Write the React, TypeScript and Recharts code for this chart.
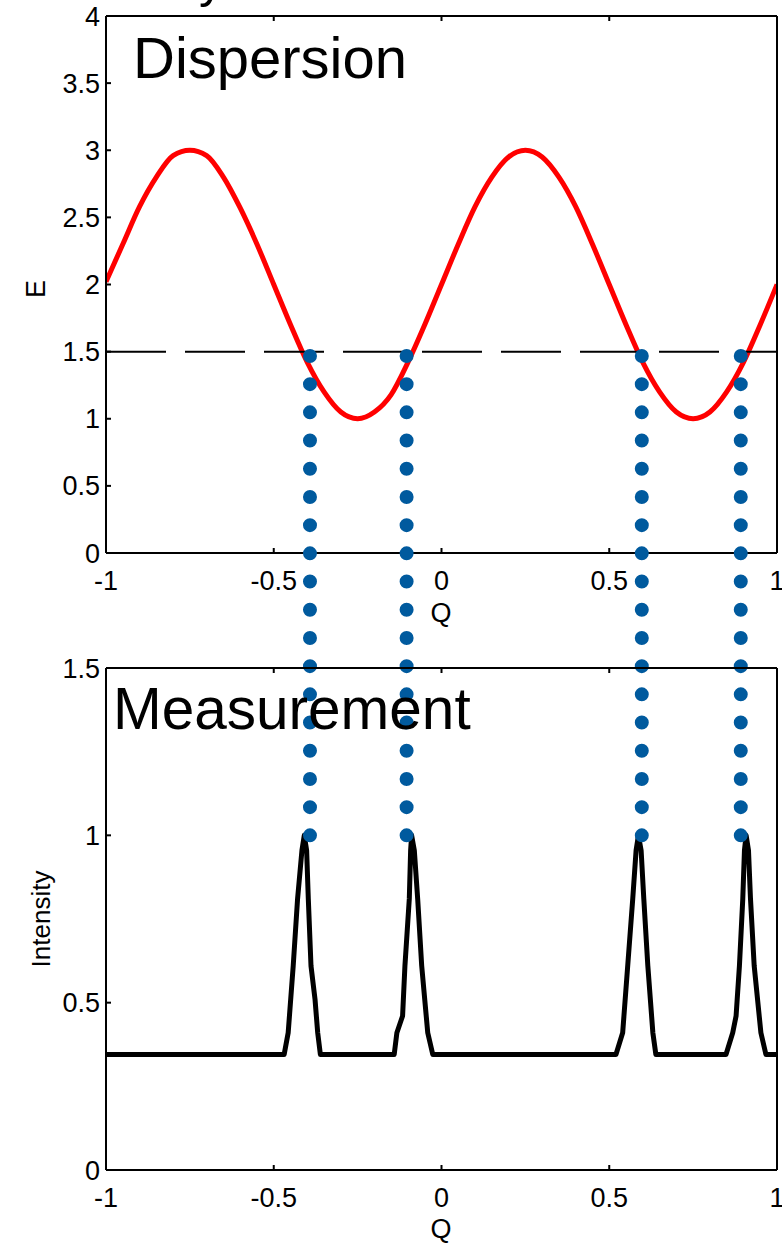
import React from 'react';
import { LineChart, Line, XAxis, YAxis, ReferenceLine } from 'recharts';

// ---------- data ----------
const qTicks = [-1, -0.5, 0, 0.5, 1];
const energyTicks = [0, 0.5, 1, 1.5, 2, 2.5, 3, 3.5, 4];
const intensityTicks = [0, 0.5, 1, 1.5];

// Dispersion curve (red)
const dispersionQ = [
  -1, -0.95, -0.9, -0.85, -0.8, -0.75, -0.7, -0.65, -0.6, -0.55, -0.5, -0.45, -0.4, -0.35, -0.3, -0.25, -0.2,
  -0.15, -0.1, -0.05, 0, 0.05, 0.1, 0.15, 0.2, 0.25, 0.3, 0.35, 0.4, 0.45, 0.5, 0.55, 0.6, 0.65, 0.7, 0.75, 0.8,
  0.85, 0.9, 0.95, 1,
];
const dispersionE = [
  2.02, 2.3, 2.58, 2.8, 2.96, 3.0, 2.96, 2.8, 2.57, 2.3, 2.0, 1.7, 1.42, 1.2, 1.05, 1.0, 1.05,
  1.18, 1.42, 1.7, 2.0, 2.3, 2.58, 2.8, 2.95, 3.0, 2.95, 2.8, 2.58, 2.3, 2.0, 1.7, 1.42, 1.2, 1.05, 1.0, 1.05,
  1.2, 1.42, 1.7, 2.0,
];

const measurementQ = [
  -1, -0.469, -0.457, -0.442, -0.429, -0.416, -0.409, -0.402, -0.397, -0.389, -0.377, -0.369, -0.361,
  -0.141, -0.133, -0.116, -0.109, -0.096, -0.092, -0.089, -0.081, -0.071, -0.059, -0.041, -0.026,
  0.52, 0.54, 0.555, 0.57, 0.58, 0.587, 0.595, 0.603, 0.615, 0.63, 0.639,
  0.848, 0.868, 0.878, 0.888, 0.898, 0.903, 0.908, 0.915, 0.921, 0.932, 0.952, 0.967, 1,
];
const measurementI = [
  0.345, 0.345, 0.41, 0.61, 0.81, 0.955, 1.0, 0.955, 0.81, 0.61, 0.51, 0.41, 0.345,
  0.345, 0.41, 0.46, 0.61, 0.81, 0.955, 1.0, 0.955, 0.81, 0.61, 0.41, 0.345,
  0.345, 0.41, 0.61, 0.81, 0.955, 1.0, 0.955, 0.81, 0.61, 0.41, 0.345,
  0.345, 0.41, 0.46, 0.61, 0.81, 0.955, 1.0, 0.955, 0.81, 0.61, 0.41, 0.345, 0.345,
];

// Constant-energy cut and the Q positions where it meets the dispersion
const cutEnergy = 1.5;
const crossingQ = [-0.392, -0.104, 0.597, 0.892];
const peakIntensity = 1;

const dispersionData = dispersionQ.map((q, i) => ({ q, e: dispersionE[i] }));
const measurementData = measurementQ.map((q, i) => ({ q, v: measurementI[i] }));

// ---------- layout ----------
const W = 782;
const FONT = '"Liberation Sans", Arial, Helvetica, sans-serif';
const Y_AXIS_W = 106;
const TOP_H = 640;
const TOP_MARGIN = { top: 15, right: 4, bottom: 7, left: 0 };
const TOP_X_H = 80;
const BOT_H = 1244;
const BOT_MARGIN = { top: 667, right: 4, bottom: 4, left: 0 };
const BOT_X_H = 70;
const E_DOMAIN: [number, number] = [0, 4];
const I_DOMAIN: [number, number] = [0, 1.5];

// translate the cut energy of the top chart into the intensity axis of the bottom chart
const topPlotTop = TOP_MARGIN.top + 1;
const topPlotBottom = TOP_H - TOP_MARGIN.bottom - TOP_X_H;
const botPlotTop = BOT_MARGIN.top + 1;
const botPlotBottom = BOT_H - BOT_MARGIN.bottom - BOT_X_H;
const cutPixel =
  topPlotBottom - ((cutEnergy - E_DOMAIN[0]) / (E_DOMAIN[1] - E_DOMAIN[0])) * (topPlotBottom - topPlotTop);
const cutInBottomUnits =
  I_DOMAIN[0] + ((botPlotBottom - cutPixel) / (botPlotBottom - botPlotTop)) * (I_DOMAIN[1] - I_DOMAIN[0]);

const tickStyle = { fill: '#000', fontSize: 27, fontFamily: FONT };
const axisLineStyle = { stroke: '#000', strokeWidth: 2 };
const tickLineStyle = { stroke: '#000', strokeWidth: 2 };
const BLUE = '#005a9e';

function axesFor(domainY: [number, number], ticksY: number[], xHeight: number) {
  return [
    <XAxis
      key="xb"
      dataKey="q"
      type="number"
      domain={[-1, 1]}
      ticks={qTicks}
      interval={0}
      height={xHeight}
      allowDataOverflow
      tick={tickStyle}
      tickSize={-5}
      tickMargin={23}
      axisLine={axisLineStyle}
      tickLine={tickLineStyle}
    />,
    <XAxis
      key="xt"
      xAxisId="t"
      orientation="top"
      dataKey="q"
      type="number"
      domain={[-1, 1]}
      ticks={qTicks}
      interval={0}
      height={1}
      tickFormatter={() => ''}
      tickSize={-5}
      tickMargin={0}
      axisLine={axisLineStyle}
      tickLine={tickLineStyle}
    />,
    <YAxis
      key="yl"
      type="number"
      domain={domainY}
      ticks={ticksY}
      interval={0}
      width={Y_AXIS_W}
      allowDataOverflow
      tick={tickStyle}
      tickSize={-5}
      tickMargin={11}
      axisLine={axisLineStyle}
      tickLine={tickLineStyle}
    />,
    <YAxis
      key="yr"
      yAxisId="r"
      orientation="right"
      type="number"
      domain={domainY}
      ticks={ticksY}
      interval={0}
      width={1}
      tickFormatter={() => ''}
      tickSize={-5}
      tickMargin={0}
      axisLine={axisLineStyle}
      tickLine={tickLineStyle}
    />,
  ];
}

export default function App() {
  return (
    <div style={{ position: 'absolute', left: 0, top: 0, width: W, height: 1244, background: '#fff', overflow: 'hidden' }}>
      {/* Top: Dispersion */}
      <div style={{ position: 'absolute', left: 0, top: 0 }}>
        <LineChart width={W} height={TOP_H} data={dispersionData} margin={TOP_MARGIN}>
          {axesFor(E_DOMAIN, energyTicks, TOP_X_H)}
          <Line
            dataKey="e"
            type="monotone"
            stroke="#ff0000"
            strokeWidth={5}
            dot={false}
            isAnimationActive={false}
          />
          <ReferenceLine y={cutEnergy} stroke="#000" strokeWidth={2} strokeDasharray="60 19" />
        </LineChart>
      </div>

      {/* Bottom: Measurement */}
      <div style={{ position: 'absolute', left: 0, top: 0 }}>
        <LineChart width={W} height={BOT_H} data={measurementData} margin={BOT_MARGIN}>
          {axesFor(I_DOMAIN, intensityTicks, BOT_X_H)}
          <Line
            dataKey="v"
            type="linear"
            stroke="#000"
            strokeWidth={5}
            strokeLinejoin="round"
            dot={false}
            isAnimationActive={false}
          />
          {crossingQ.map((q) => (
            <ReferenceLine
              key={q}
              segment={[
                { x: q, y: peakIntensity },
                { x: q, y: cutInBottomUnits },
              ]}
              ifOverflow="visible"
              stroke={BLUE}
              strokeWidth={14}
              strokeLinecap="round"
              strokeDasharray="0 28.2"
            />
          ))}
        </LineChart>
      </div>

      {/* Text overlay */}
      <svg
        width={W}
        height={1244}
        style={{ position: 'absolute', left: 0, top: 0, pointerEvents: 'none' }}
        fontFamily={FONT}
      >
        <text x={199} y={-3} fontSize={50} fill="#000">y</text>
        <text x={133} y={78} fontSize={58} fill="#000">Dispersion</text>
        <text x={113} y={729} fontSize={58.5} fill="#000">Measurement</text>
        <text x={441} y={622} fontSize={27} fill="#000" textAnchor="middle">Q</text>
        <text x={441} y={1238} fontSize={27} fill="#000" textAnchor="middle">Q</text>
        <text transform="translate(45,289) rotate(-90)" fontSize={27} fill="#000" textAnchor="middle">E</text>
        <text transform="translate(50,919) rotate(-90)" fontSize={26} fill="#000" textAnchor="middle">Intensity</text>
      </svg>
    </div>
  );
}
